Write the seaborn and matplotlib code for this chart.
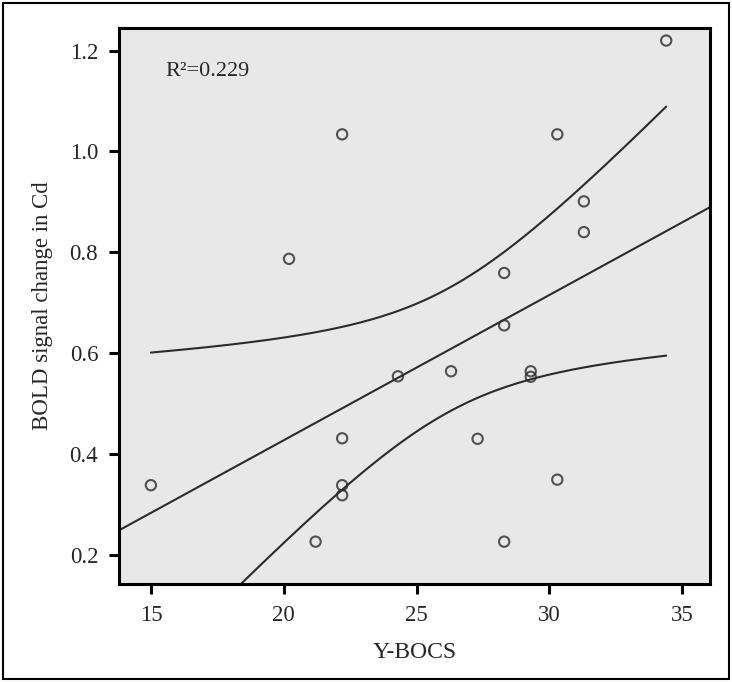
import numpy as np
import pandas as pd
import matplotlib
matplotlib.use("Agg")
import matplotlib.pyplot as plt
import seaborn as sns
from matplotlib.patches import Rectangle

# Y-BOCS score and BOLD signal change in caudate
ybocs = [15.0, 20.2, 21.2, 22.2, 22.2, 22.2, 22.2, 24.3, 26.3, 27.3,
         28.3, 28.3, 28.3, 29.3, 29.3, 30.3, 30.3, 31.3, 31.3, 34.4]
bold = [0.338, 0.787, 0.226, 1.034, 0.431, 0.338, 0.318, 0.554, 0.564, 0.430,
        0.759, 0.655, 0.226, 0.564, 0.553, 1.034, 0.349, 0.901, 0.840, 1.220]
r2_text = "R\u00b2=0.229"

df = pd.DataFrame({"Y-BOCS": ybocs, "BOLD": bold})

sns.set_theme(style="white")
plt.rcParams['font.family'] = ['Liberation Serif', 'DejaVu Serif']

fig = plt.figure(figsize=(7.32, 6.82), dpi=100)
ax = fig.add_axes([0.1626, 0.1437, 0.8074, 0.8153])
ax.set_facecolor("#e8e8e8")
ax.set_xlim(13.8, 36.05)
ax.set_ylim(0.142, 1.245)

line_col = "#2b2b2b"
sns.regplot(data=df, x="Y-BOCS", y="BOLD", ax=ax, ci=None, truncate=False,
            scatter_kws=dict(s=55, facecolors="none", edgecolors=line_col,
                             linewidths=1.5),
            line_kws=dict(color=line_col, lw=1.5))

# 95% confidence band of the mean (analytic, lines like SPSS)
x = np.asarray(ybocs)
y = np.asarray(bold)
n = len(x)
b, a = np.polyfit(x, y, 1)
resid = y - (a + b * x)
s = np.sqrt(np.sum(resid ** 2) / (n - 2))
tcrit = 2.101
xs = np.linspace(x.min(), x.max(), 200)
se = s * np.sqrt(1 / n + (xs - x.mean()) ** 2 / np.sum((x - x.mean()) ** 2))
fit = a + b * xs
ax.plot(xs, fit + tcrit * se, color=line_col, lw=1.5)
ax.plot(xs, fit - tcrit * se, color=line_col, lw=1.5)

ax.set_xlim(13.8, 36.05)
ax.set_ylim(0.142, 1.245)
ax.set_xticks([15, 20, 25, 30, 35])
ax.set_yticks([0.2, 0.4, 0.6, 0.8, 1.0, 1.2])
ax.set_yticklabels(["0.2", "0.4", "0.6", "0.8", "1.0", "1.2"])

for sp in ax.spines.values():
    sp.set_visible(True)
    sp.set_color("black")
    sp.set_linewidth(2.2)
ax.tick_params(direction="out", length=7, width=2.2, color="black",
               labelsize=16.5, pad=8, bottom=True, left=True)

ax.set_xlabel("Y-BOCS", fontsize=17, labelpad=12)
ax.set_ylabel("BOLD signal change in Cd", fontsize=16.5, labelpad=12)

ax.text(15.53, 1.158, r2_text, fontsize=16, va="center", ha="left")

fig.add_artist(Rectangle((0.004, 0.004), 0.992, 0.992, transform=fig.transFigure,
                         fill=False, edgecolor="black", lw=1.5))

fig.savefig("out.png", dpi=100)
